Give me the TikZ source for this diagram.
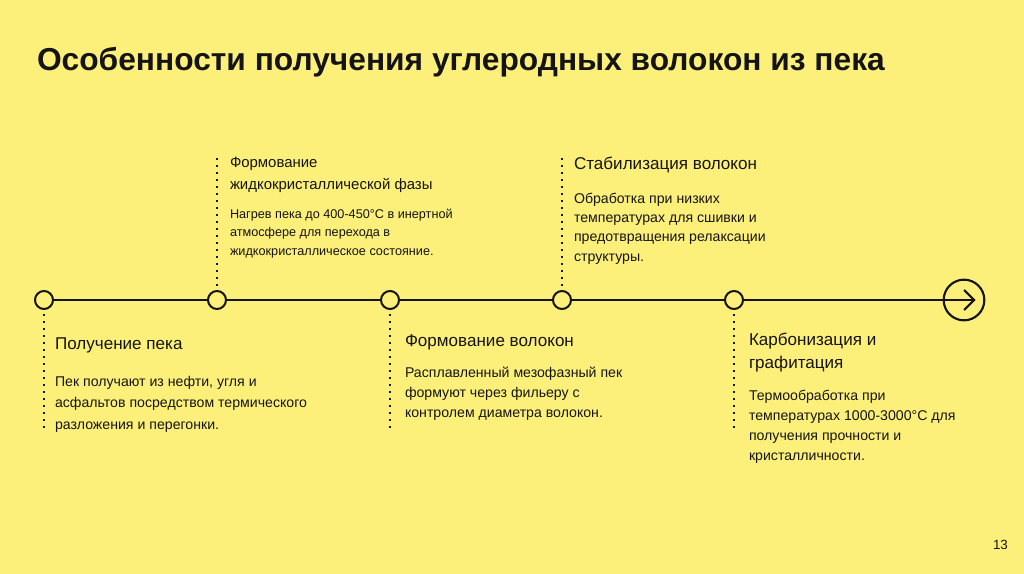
\documentclass[tikz,border=0pt]{standalone}
\usepackage{fontspec}
\setmainfont{Liberation Sans}
\definecolor{bg}{HTML}{FDF07A}
\definecolor{ink}{HTML}{141414}
\begin{document}
\begin{tikzpicture}[x=0.75pt,y=-0.75pt,
  every node/.style={inner sep=0pt,outer sep=0pt,text=ink,anchor=base west},
  head/.style={font=\fontsize{12.8pt}{17.25pt}\selectfont,align=left},
  body/.style={font=\fontsize{10.6pt}{16pt}\selectfont,align=left},
  dot/.style={circle,draw=ink,line width=1.5pt,fill=bg,minimum size=13.5pt,inner sep=0pt,anchor=center},
  dotline/.style={draw=ink,line width=1.5pt,dash pattern=on 1.5pt off 3.75pt},
  main/.style={draw=ink,line width=1.6pt}]
\fill[bg] (0,0) rectangle (1024,574);
\useasboundingbox (0,0) rectangle (1024,574);
\node[font=\bfseries\fontsize{23.8pt}{26pt}\selectfont] (title) at (37,71) {Особенности получения углеродных волокон из пека};
% timeline
\coordinate (p1) at (44,300);
\coordinate (p2) at (217,300);
\coordinate (p3) at (390,300);
\coordinate (p4) at (562,300);
\coordinate (p5) at (734,300);
\node[circle,draw=ink,line width=1.6pt,minimum size=30.5pt,anchor=center] (end) at (964,300) {};
\coordinate (tip) at (974,300);
\draw[main] (p1) -- (tip);
\draw[main,line join=miter] ([xshift=-7.5pt,yshift=7.5pt]tip) -- (tip) -- ([xshift=-7.5pt,yshift=-7.5pt]tip);
% dotted connectors
\coordinate (d1) at (44,433);
\coordinate (d2) at (217,158);
\coordinate (d3) at (390,433);
\coordinate (d4) at (562,158);
\coordinate (d5) at (734,433);
\node[dot] (c1) at (p1) {};
\node[dot] (c2) at (p2) {};
\node[dot] (c3) at (p3) {};
\node[dot] (c4) at (p4) {};
\node[dot] (c5) at (p5) {};
\draw[dotline] (c1.south) ++(0,-4pt) -- (d1);
\draw[dotline] (c2.north) ++(0,4pt) -- (d2);
\draw[dotline] (c3.south) ++(0,-4pt) -- (d3);
\draw[dotline] (c4.north) ++(0,4pt) -- (d4);
\draw[dotline] (c5.south) ++(0,-4pt) -- (d5);
% texts (anchor = baseline of last line)
\node[head] (h1) at (55,349) {Получение пека};
\node[body,font=\fontsize{10.6pt}{16.1pt}\selectfont] (b1) at (55,429) {Пек получают из нефти, угля и\\асфальтов посредством термического\\разложения и перегонки.};
\node[head,font=\fontsize{11.2pt}{16.5pt}\selectfont] (h2) at (230,190) {Формование\\жидкокристаллической фазы};
\node[body,font=\fontsize{9.5pt}{13.8pt}\selectfont] (b2) at (230,255) {Нагрев пека до 400-450°С в инертной\\атмосфере для перехода в\\жидкокристаллическое состояние.};
\node[head] (h3) at (405,346) {Формование волокон};
\node[body,font=\fontsize{10.6pt}{14.8pt}\selectfont] (b3) at (405,417) {Расплавленный мезофазный пек\\формуют через фильеру с\\контролем диаметра волокон.};
\node[head] (h4) at (574,170) {Стабилизация волокон};
\node[body,font=\fontsize{10.6pt}{14.3pt}\selectfont] (b4) at (574,261) {Обработка при низких\\температурах для сшивки и\\предотвращения релаксации\\структуры.};
\node[head] (h5) at (749,368) {Карбонизация и\\графитация};
\node[body,font=\fontsize{10.6pt}{14.8pt}\selectfont] (b5) at (749,460) {Термообработка при\\температурах 1000-3000°С для\\получения прочности и\\кристалличности.};
\node[font=\fontsize{10pt}{12pt}\selectfont] (pg) at (993,549) {13};
\end{tikzpicture}
\end{document}
